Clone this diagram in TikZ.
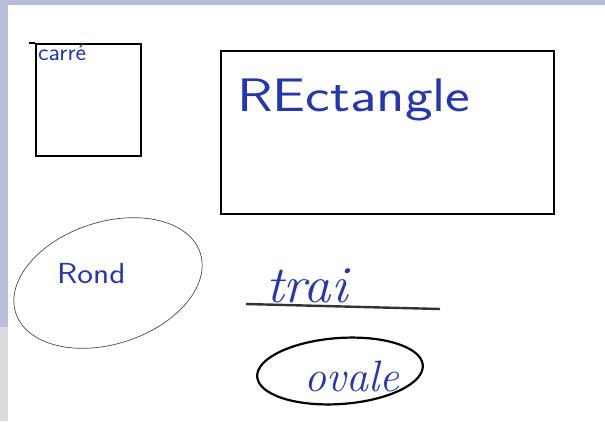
\documentclass[tikz,border=0pt]{standalone}
\usetikzlibrary{shapes.geometric}
\definecolor{lav}{HTML}{B8BDDC}
\definecolor{greyband}{HTML}{DCDCDC}
\definecolor{ink}{HTML}{2436B0}
\tikzset{
  box/.style={draw=black, line width=2.4pt, anchor=north west, inner sep=0pt},
  blob/.style={draw, ellipse, inner sep=0pt},
  hand/.style={text=ink, inner sep=0pt, font=\sffamily},
  cursive/.style={text=ink, inner sep=0pt, font=\itshape},
}
\begin{document}
\begin{tikzpicture}[x=1pt,y=-1pt]
\useasboundingbox (0,0) rectangle (605,421);
\fill[white] (0,0) rectangle (605,421);
\fill[lav] (0,0) rectangle (605,5);
\fill[lav] (0,0) rectangle (8,327);
\fill[greyband] (0,327) rectangle (8,421);
% carre
\node[box, minimum width=105pt, minimum height=112pt] (carre) at (35,43) {};
\draw[line width=2.4pt] (carre.north west) -- ++(-6,0);
\node[hand, anchor=north west, xscale=1.05, font=\sffamily\fontsize{24}{24}\selectfont] (tcarre) at (38,44) {carré};
% rectangle
\node[box, minimum width=333pt, minimum height=163pt] (rect) at (220,50) {};
\node[hand, anchor=base west, xscale=1.25, font=\sffamily\fontsize{47}{47}\selectfont] (trect) at (237,111) {REctangle};
% rond
\node[blob, draw=black!70, line width=0.7pt, minimum width=194pt, minimum height=122pt, rotate=18] (rond) at (108,283) {};
\node[hand, anchor=base west, xscale=1.15, font=\sffamily\fontsize{29}{29}\selectfont] (trond) at (57,283) {Rond};
% trait
\coordinate (l1) at (246,304);
\coordinate (l2) at (440,309);
\draw[line width=2.4pt, black!80] (l1) -- (l2);
\node[cursive, anchor=base west, xscale=1.05, font=\itshape\fontsize{52}{52}\selectfont] (ttrai) at (266,302) {trai};
% ovale
\node[blob, draw=black, line width=2.2pt, minimum width=166pt, minimum height=66pt, rotate=4] (ovale) at (340,371) {};
\node[cursive, anchor=base west, font=\itshape\fontsize{44}{44}\selectfont] (tovale) at (304,391) {ovale};
\end{tikzpicture}
\end{document}
